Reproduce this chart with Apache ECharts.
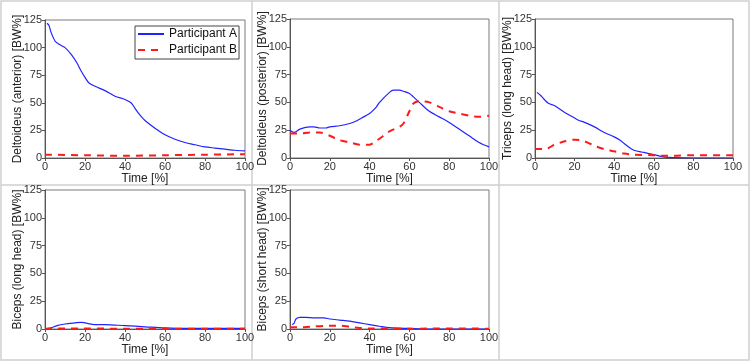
<!DOCTYPE html>
<html style="height: 100%">
<head>
	<meta charset="utf-8">
</head>
<body style="height: 100%; margin: 0; background: #fff">
<div id="container" style="width: 750px; height: 363px"></div>
<script type="text/javascript" src="https://cdn.jsdelivr.net/npm/echarts@6/dist/echarts.min.js"></script>
<script type="text/javascript">
    // time [%] and values [BW%]
    var delAntA_t = [1, 2, 3, 5, 7, 10, 13, 16, 18, 20, 22, 25, 30, 35, 40, 43, 45, 47, 50, 55, 60, 65, 70, 75, 80, 85, 90, 95, 100];
    var delAntA   = [122, 120, 114, 106, 103, 100, 94, 86, 79, 73, 68, 65, 61, 56, 53, 50, 45, 40, 34, 27, 21, 17, 14, 12, 10, 9, 8, 7, 6.5];
    var delAntB_t = [0, 20, 40, 60, 80, 100];
    var delAntB   = [3, 2.5, 2, 2.5, 3, 3.5];

    var delPostA_t = [0, 2, 5, 10, 12, 15, 18, 20, 25, 30, 33, 36, 40, 43, 45, 50, 52, 55, 57, 60, 62, 65, 70, 75, 80, 85, 90, 95, 100];
    var delPostA   = [25, 23, 26, 28, 28, 27, 27, 28, 29, 31, 33, 36, 40, 45, 50, 59, 61, 61, 60, 58, 55, 50, 42, 37, 32, 26, 20, 14, 10];
    var delPostB_t = [0, 5, 10, 15, 20, 25, 30, 35, 40, 43, 47, 50, 55, 57, 60, 62, 65, 70, 75, 80, 85, 90, 95, 100];
    var delPostB   = [22, 22, 23, 23, 20, 16, 14, 12, 12, 15, 20, 24, 28, 31, 42, 49, 51, 50, 46, 42, 40, 38, 37, 38];

    var triA_t = [1, 3, 5, 7, 10, 15, 20, 22, 25, 30, 35, 40, 43, 45, 48, 50, 55, 60, 65, 70, 80, 100];
    var triA   = [59, 56, 52, 49, 47, 41, 36, 34, 32, 28, 23, 19, 16, 13, 9, 7, 5, 3, 1, 0.3, 0, 0];
    var triB_t = [0, 5, 10, 15, 20, 25, 30, 35, 40, 45, 50, 60, 65, 70, 80, 100];
    var triB   = [8, 8, 12, 15, 16.5, 15, 11, 8, 6, 4, 3, 2.5, 2, 2, 2.5, 2.5];

    var bicLongA_t = [0, 3, 6, 10, 15, 18, 20, 25, 30, 40, 50, 60, 70, 100];
    var bicLongA   = [0, 1, 3, 4.5, 5.5, 6, 5.5, 4, 4, 3, 2, 1, 0.5, 0.5];
    var bicLongB_t = [0, 5, 20, 40, 60, 80, 100];
    var bicLongB   = [0.2, 0.5, 0.4, 0.3, 0.3, 0.3, 0.3];

    var bicShortA_t = [1, 2, 3, 5, 8, 12, 17, 20, 25, 30, 35, 40, 45, 50, 60, 70, 100];
    var bicShortA   = [4, 5, 9, 10.5, 10.5, 10, 10, 9, 8, 7, 5.5, 4, 2.5, 1.2, 0.5, 0, 0];
    var bicShortB_t = [0, 5, 10, 20, 25, 30, 35, 40, 60, 80, 100];
    var bicShortB   = [1.5, 1.5, 2, 3, 3, 2, 1, 0.5, 0.3, 0.5, 0.3];

    var yNames = ['Deltoideus (anterior) [BW%]', 'Deltoideus (posterior) [BW%]', 'Triceps (long head) [BW%]',
                  'Biceps (long head) [BW%]', 'Biceps (short head) [BW%]'];
    var seriesNames = ['Participant A', 'Participant B'];

    var panelData = [
        [delAntA_t, delAntA, delAntB_t, delAntB],
        [delPostA_t, delPostA, delPostB_t, delPostB],
        [triA_t, triA, triB_t, triB],
        [bicLongA_t, bicLongA, bicLongB_t, bicLongB],
        [bicShortA_t, bicShortA, bicShortB_t, bicShortB]
    ];

    var grids = [
        {left: 45, top: 20, width: 200, height: 138},
        {left: 290, top: 19, width: 199, height: 139},
        {left: 535, top: 19, width: 198, height: 139},
        {left: 45, top: 190, width: 200, height: 139},
        {left: 290, top: 190, width: 199, height: 139}
    ];

    function pairs(t, v) {
        return t.map(function (x, i) { return [x, v[i]]; });
    }

    var font = '"Liberation Sans", Arial, sans-serif';
    var xAxes = [], yAxes = [], series = [];
    grids.forEach(function (g, i) {
        g.show = true;
        g.borderColor = '#7a7a7a';
        g.borderWidth = 1;
        g.backgroundColor = '#fff';
        xAxes.push({
            type: 'value', gridIndex: i, min: 0, max: 100, interval: 20,
            name: 'Time [%]', nameLocation: 'middle', nameGap: 15, nameMoveOverlap: false,
            nameTextStyle: {color: '#222', fontSize: 12, fontFamily: font},
            axisLine: {lineStyle: {color: '#555'}},
            axisTick: {length: 3, lineStyle: {color: '#555'}},
            axisLabel: {color: '#333', fontSize: 11, margin: 3, fontFamily: font},
            splitLine: {show: false}
        });
        yAxes.push({
            type: 'value', gridIndex: i, min: 0, max: 125, interval: 25,
            name: yNames[i], nameLocation: 'middle', nameGap: 21, nameMoveOverlap: false,
            nameTextStyle: {color: '#222', fontSize: 12, fontFamily: font},
            axisLine: {show: true, lineStyle: {color: '#555'}},
            axisTick: {show: true, length: 3, lineStyle: {color: '#555'}},
            axisLabel: {color: '#333', fontSize: 11, margin: 3, fontFamily: font},
            splitLine: {show: false}
        });
        var d = panelData[i];
        series.push({
            name: seriesNames[0], type: 'line', xAxisIndex: i, yAxisIndex: i,
            data: pairs(d[0], d[1]), symbol: 'none', smooth: 0.3,
            lineStyle: {color: '#2222ff', width: 1.2},
            itemStyle: {color: '#2222ff'}
        });
        series.push({
            name: seriesNames[1], type: 'line', xAxisIndex: i, yAxisIndex: i,
            data: pairs(d[2], d[3]), symbol: 'none', smooth: 0.3,
            lineStyle: {color: '#ff1a1a', width: 2, type: [7, 6]},
            itemStyle: {color: '#ff1a1a'}
        });
    });

    var cellLine = {stroke: '#cfcfcf', lineWidth: 1.5};
    var option = {
        backgroundColor: '#fff',
        animation: false,
        grid: grids,
        xAxis: xAxes,
        yAxis: yAxes,
        legend: {
            data: seriesNames,
            orient: 'vertical',
            left: 135, top: 26,
            padding: [2, 2, 3, 2],
            itemWidth: 26, itemHeight: 10, itemGap: 4,
            itemStyle: {opacity: 0},
            backgroundColor: '#fff',
            borderColor: '#444', borderWidth: 1, borderRadius: 0,
            textStyle: {color: '#111', fontSize: 12, fontFamily: font}
        },
        graphic: [
            {type: 'rect', shape: {x: 1, y: 1, width: 748, height: 359}, style: {fill: 'none', stroke: '#cfcfcf', lineWidth: 1.5}, z: -1},
            {type: 'line', shape: {x1: 252, y1: 1, x2: 252, y2: 360}, style: cellLine},
            {type: 'line', shape: {x1: 499, y1: 1, x2: 499, y2: 360}, style: cellLine},
            {type: 'line', shape: {x1: 1, y1: 185, x2: 749, y2: 185}, style: cellLine}
        ],
        series: series
    };

    var myChart = echarts.init(document.getElementById('container'));
    myChart.setOption(option, true);
</script>
</body>
</html>
